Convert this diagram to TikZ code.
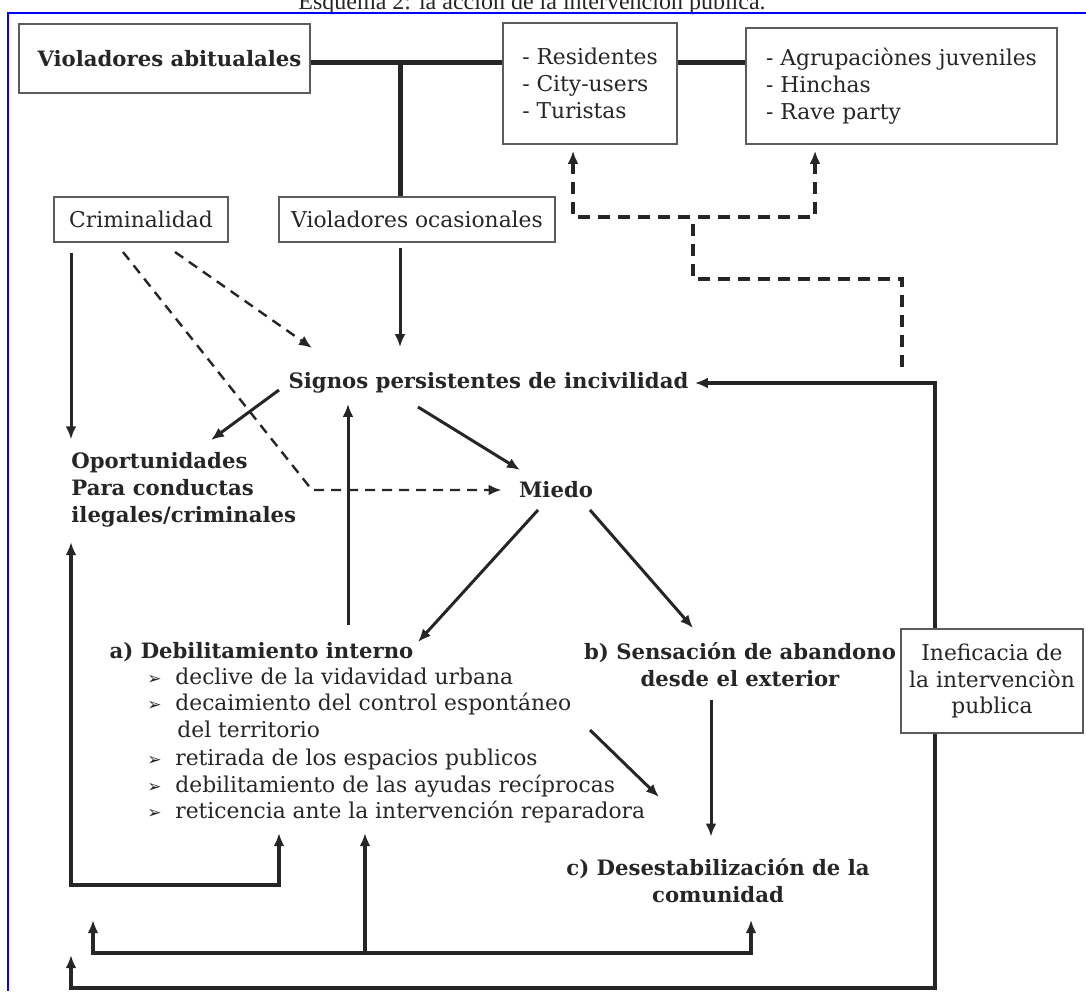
\documentclass[tikz,border=0pt]{standalone}
\usepackage{fontspec}
\setmainfont{DejaVu Serif}
\newfontfamily\titulofont{Liberation Serif}
\newfontfamily\balafont{DejaVu Sans}
\usetikzlibrary{arrows.meta}
\definecolor{tinta}{HTML}{262626}
\definecolor{marco}{HTML}{5C5C5C}
\newcommand{\letra}{\fontsize{10.9}{13.4}\selectfont}
\newcommand{\letrab}{\fontsize{10.6}{13.4}\selectfont\bfseries}
\begin{document}
\begin{tikzpicture}[x = 0.5pt, y = -0.5pt,
    punta/.tip = {Latex[length = 6.5pt, width = 5.4pt]},
    caja/.style = {draw = marco, line width = 0.75pt, fill = white, inner sep = 0pt, text = tinta, font = \letra},
    texto/.style = {inner sep = 0pt, text = tinta, font = \letrab},
    linea/.style = {inner sep = 0pt, text = tinta, font = \letra, anchor = west, text height = 8pt, text depth = 2.3pt},
    flecha/.style = {draw = tinta, line width = 1.5pt, -punta},
    discont/.style = {draw = tinta, line width = 1.2pt, dash pattern = on 5pt off 3.5pt, -punta},
    discont2/.style = {draw = tinta, line width = 1.7pt, dash pattern = on 6pt off 4pt},
    grueso/.style = {draw = tinta, line width = 2.5pt},
    lazo/.style = {draw = tinta, line width = 1.8pt, punta-punta}]
    \useasboundingbox (0, 0) rectangle (1086, 991);
    \node[anchor = base, text = black!85, font = \titulofont\fontsize{12}{14}\selectfont] (titulo) at (532, 9) {Esquema 2: la acción de la intervención publica.};
    \draw[blue, line width = 1pt] (8, 991) -- (8, 13) -- (1086, 13);

    \node[caja, minimum width = 145.5pt, minimum height = 34.5pt, font = \letrab] (va) at (164.5, 58.5) {\hspace{5pt}Violadores abitualales};
    \node[caja, minimum width = 87pt, minimum height = 60.5pt, align = left] (res) at (590, 83.5) {- Residentes\\- City-users\\- Turistas};
    \node[caja, minimum width = 155.5pt, minimum height = 58pt, align = left] (agr) at (901.5, 86) {- Agrupaciònes juveniles\\- Hinchas\\- Rave party};
    \node[caja, minimum width = 87pt, minimum height = 22.5pt] (crim) at (141, 219.5) {Criminalidad};
    \node[caja, minimum width = 138pt, minimum height = 22.5pt] (vo) at (417, 219.5) {Violadores ocasionales};

    \node[texto] (signos) at (488.5, 383) {Signos persistentes de incivilidad};
    \node[texto, anchor = west, align = left] (oport) at (71, 490) {Oportunidades\\Para conductas\\ilegales/criminales};
    \node[texto] (miedo) at (556, 490) {Miedo};
    \node[texto] (deb) at (261.5, 652) {a) Debilitamiento interno};
    \node[texto, align = center] (sens) at (740, 665) {b) Sensación de abandono\\desde el exterior};
    \node[texto, align = center] (desest) at (718, 881) {c) Desestabilización de la\\comunidad};
    \foreach \y/\txt in {679/declive de la vidavidad urbana, 705/decaimiento del control espontáneo, 760/retirada de los espacios publicos, 787/debilitamiento de las ayudas recíprocas, 813/reticencia ante la intervención reparadora}
    {
        \node[linea, font = \balafont\fontsize{8.5}{9}\selectfont] (bala\y) at (147, \y) {➢};
        \node[linea] (item\y) at (175, \y) {\txt};
    }
    \node[linea] (item732) at (177, 732) {del territorio};

    \coordinate (nudo) at (400, 62.5);
    \coordinate (d1) at (123, 252);
    \coordinate (codo) at (312, 490);
    \coordinate (d2) at (175, 252);
    \coordinate (d2f) at (312, 348);
    \coordinate (s1) at (279, 390);
    \coordinate (s1f) at (211, 440);
    \coordinate (s2) at (418, 407);
    \coordinate (s2f) at (520, 470);
    \coordinate (m1) at (538, 510);
    \coordinate (m1f) at (418, 642);
    \coordinate (m2) at (590, 510);
    \coordinate (m2f) at (693, 628);
    \coordinate (l1) at (590, 730);
    \coordinate (l1f) at (659, 797);
    \coordinate (sube) at (348, 625);
    \coordinate (baja) at (711, 700);
    \coordinate (cruce) at (693, 279);
    \coordinate (d3) at (902, 367);
    \coordinate (r1) at (573, 217);
    \coordinate (r2) at (815, 217);
    \coordinate (a1) at (279, 833);
    \coordinate (a2) at (71, 885);
    \coordinate (a3) at (71, 542);
    \coordinate (b1) at (93, 920);
    \coordinate (b2) at (751, 920);
    \coordinate (b3) at (365, 833);
    \coordinate (b4) at (751, 953);
    \coordinate (c1) at (71, 955);
    \coordinate (esq) at (935, 988);

    \draw[grueso] (va.east |- nudo) -- (res.west |- nudo);
    \draw[grueso] (res.east |- nudo) -- (agr.west |- nudo);
    \draw[grueso] (nudo) -- (nudo |- vo.north);

    \draw[flecha, shorten <= 2.5pt, shorten >= 12.5pt] (vo.south -| nudo) -- (nudo |- signos.north);
    \draw[flecha, shorten <= 5pt, shorten >= 6.5pt] (crim.south -| oport.west) -- (oport.north west);
    \draw[discont] (d1) -- (codo) -- ([xshift = -8.5pt]miedo.west);
    \draw[discont] (d2) -- (d2f);
    \draw[flecha] (s1) -- (s1f);
    \draw[flecha] (s2) -- (s2f);
    \draw[flecha] (m1) -- (m1f);
    \draw[flecha] (m2) -- (m2f);
    \draw[flecha] (l1) -- (l1f);
    \draw[flecha, shorten >= 5pt] (sube) -- (sube |- signos.south);
    \draw[flecha, shorten >= 11pt] (baja) -- (baja |- desest.north);

    \draw[discont2] (d3) -- (d3 |- cruce) -- (cruce) -- (cruce |- r1);
    \draw[discont2, punta-punta, shorten <= 3pt, shorten >= 3pt] (r1 |- res.south) -- (r1) -- (r2) -- (r2 |- agr.south);

    \draw[lazo] (a1) |- (a2) -- (a3);
    \draw[lazo] (b1) |- (b4) -- (b2);
    \draw[flecha, line width = 1.8pt] (b3 |- b4) -- (b3);
    \draw[lazo] (c1) |- (esq) |- ([xshift = 3pt]signos.east);

    \node[caja, minimum width = 91pt, minimum height = 52pt, align = center] (inef) at (992, 681) {Ineficacia de\\la intervenciòn\\publica};
\end{tikzpicture}
\end{document}
